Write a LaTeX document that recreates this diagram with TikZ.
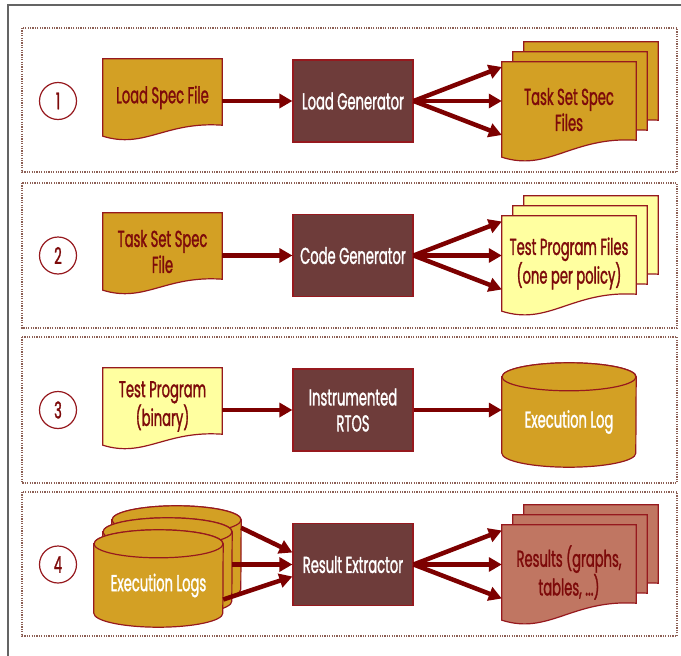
\documentclass[tikz,border=0pt]{standalone}
\usepackage{fontspec}
\setmainfont{Poppins}[FakeStretch=0.57, FakeBold=1.2]
\usetikzlibrary{arrows.meta,calc,backgrounds}

\definecolor{mustard}{RGB}{211,160,36}
\definecolor{edgered}{RGB}{150,25,30}
\definecolor{boxbrown}{RGB}{110,60,58}
\definecolor{paleyellow}{RGB}{255,255,160}
\definecolor{salmon}{RGB}{192,118,98}
\definecolor{arrowred}{RGB}{125,0,0}
\definecolor{textred}{RGB}{125,10,10}
\definecolor{panelline}{RGB}{140,95,85}
\definecolor{framegray}{RGB}{100,100,100}

% wavy-bottomed document outline around a (text-less) node
% #1 node, #2 rise of the right corner, #3/#4 control offsets, #5 dip, #6 style
\newcommand{\drawdoc}[6]{%
  \filldraw[#6] (#1.north west) -- (#1.north east) -- ($(#1.south east)+(0,-#2)$)
    .. controls ($(#1.south east)+(-#3,-#2-4)$) and ($(#1.south west)+(#4,#5)$) .. (#1.south west) -- cycle;}

% cylinder whose node spans from the centre line of the top ellipse to the bottom
% #1 node, #2 half width, #3 ellipse y radius, #4 style
\newcommand{\drawcyl}[4]{%
  \filldraw[#4] (#1.north west) -- ($(#1.south west)+(0,-#3)$)
    arc[start angle=180, end angle=0, x radius=#2, y radius=#3]
    -- (#1.north east)
    arc[start angle=0, end angle=-180, x radius=#2, y radius=#3] -- cycle;
  \filldraw[#4] (#1.north) ellipse[x radius=#2, y radius=#3];}

\begin{document}
\begin{tikzpicture}[x=1pt, y=-1pt,
  label font/.style={font=\fontsize{23}{26}\selectfont},
  docnode/.style={draw=none, inner sep=0pt, align=center, label font, text=textred},
  smalldoc/.style={docnode, minimum width=119pt, minimum height=77pt},
  bigdoc/.style={docnode, minimum width=134pt, minimum height=95pt},
  procbox/.style={draw=edgered, line width=1.2pt, fill=boxbrown, text=white,
    align=center, label font, minimum width=120pt, minimum height=82pt, inner sep=0pt},
  stepnum/.style={circle, draw=edgered, line width=1.2pt, minimum size=37pt,
    inner sep=0pt, text=textred, label font},
  cylnode/.style={draw=none, inner sep=0pt, align=center, label font, text=white},
  shapeline/.style={draw=edgered, line width=1.2pt},
  link/.style={draw=arrowred, line width=4.5pt, -{Triangle[length=13pt,width=14pt]}},
  panel/.style={draw=panelline, line width=1.5pt, dash pattern=on 1.2pt off 1.2pt},
]
\useasboundingbox (0,0) rectangle (681,656);

% outer frame
\draw[framegray, line width=1.5pt] (8,656) -- (8,5) -- (681,5);

% ---------- stage 1 ----------
\node[stepnum] (n1) at (58,101) {1};
\node[smalldoc] (spec1) at (162.5,97.5) {Load Spec File};
\node[procbox] (gen1) at (353,101) {Load Generator};
\node[bigdoc] (task1) at (569,109.5) {Task Set Spec\\Files};
\node[bigdoc] (task1b) at (580,99.5) {};
\node[bigdoc] (task1c) at (591,89.5) {};

% ---------- stage 2 ----------
\node[stepnum] (n2) at (58,255.5) {2};
\node[smalldoc] (spec2) at (162.5,251.5) {Task Set Spec\\File};
\node[procbox] (gen2) at (353,255.5) {Code Generator};
\node[bigdoc] (prog2) at (569,263.5) {Test Program Files\\(one per policy)};
\node[bigdoc] (prog2b) at (580,253.5) {};
\node[bigdoc] (prog2c) at (591,243.5) {};

% ---------- stage 3 ----------
\node[stepnum] (n3) at (58,410) {3};
\node[smalldoc] (bin3) at (162.5,406.5) {Test Program\\(binary)};
\node[procbox] (rtos3) at (353,410) {Instrumented\\RTOS};
\node[cylnode, minimum width=134pt, minimum height=90pt] (log3) at (569,422) {Execution Log};

% ---------- stage 4 ----------
\node[stepnum] (n4) at (58,564.5) {4};
\node[cylnode, minimum width=129pt, minimum height=83pt] (logs4a) at (158.5,585.5) {Execution Logs};
\node[cylnode, minimum width=129pt, minimum height=83pt] (logs4b) at (167.5,573.5) {};
\node[cylnode, minimum width=129pt, minimum height=83pt] (logs4c) at (176.5,561.5) {};
\node[procbox] (ext4) at (353,564.5) {Result Extractor};
\node[bigdoc] (res4) at (569,572.5) {Results (graphs,\\tables, ...)};
\node[bigdoc] (res4b) at (580,562.5) {};
\node[bigdoc] (res4c) at (591,552.5) {};

% ---------- shapes behind the labels ----------
\begin{pgfonlayer}{background}
  \draw[panel] (22,28) rectangle (677,172);
  \draw[panel] (22,183) rectangle (677,328);
  \draw[panel] (22,337) rectangle (677,483);
  \draw[panel] (22,492) rectangle (677,636);

  \drawdoc{spec1}{11}{57}{42}{13}{shapeline, fill=mustard}
  \drawdoc{task1c}{17}{64}{47}{15}{shapeline, fill=mustard}
  \drawdoc{task1b}{17}{64}{47}{15}{shapeline, fill=mustard}
  \drawdoc{task1}{17}{64}{47}{15}{shapeline, fill=mustard}

  \drawdoc{spec2}{11}{57}{42}{13}{shapeline, fill=mustard}
  \drawdoc{prog2c}{17}{64}{47}{15}{shapeline, fill=paleyellow}
  \drawdoc{prog2b}{17}{64}{47}{15}{shapeline, fill=paleyellow}
  \drawdoc{prog2}{17}{64}{47}{15}{shapeline, fill=paleyellow}

  \drawdoc{bin3}{11}{57}{42}{13}{shapeline, fill=paleyellow}
  \drawcyl{log3}{67}{14}{shapeline, fill=mustard}

  \drawcyl{logs4c}{64.5}{14}{shapeline, fill=mustard}
  \drawcyl{logs4b}{64.5}{14}{shapeline, fill=mustard}
  \drawcyl{logs4a}{64.5}{14}{shapeline, fill=mustard}
  \drawdoc{res4c}{17}{64}{47}{15}{shapeline, fill=salmon}
  \drawdoc{res4b}{17}{64}{47}{15}{shapeline, fill=salmon}
  \drawdoc{res4}{17}{64}{47}{15}{shapeline, fill=salmon}
\end{pgfonlayer}

% ---------- connectors ----------
\draw[link] (spec1.east |- gen1.west) -- (gen1.west);
\draw[link] (gen1.east) -- ($(task1.west |- gen1.east)+(0,-34)$);
\draw[link] (gen1.east) -- (task1.west |- gen1.east);
\draw[link] (gen1.east) -- ($(task1.west |- gen1.east)+(0,34)$);

\draw[link] (spec2.east |- gen2.west) -- (gen2.west);
\draw[link] (gen2.east) -- ($(prog2.west |- gen2.east)+(0,-34)$);
\draw[link] (gen2.east) -- (prog2.west |- gen2.east);
\draw[link] (gen2.east) -- ($(prog2.west |- gen2.east)+(0,34)$);

\draw[link] (bin3.east |- rtos3.west) -- (rtos3.west);
\draw[link] (rtos3.east) -- (rtos3.east -| log3.west);

\draw[link] ($(logs4c.north east)+(0,8)$) -- ($(ext4.west)+(0,-12)$);
\draw[link] (logs4b.east |- ext4.west) -- (ext4.west);
\draw[link] ($(logs4a.east)+(0,14)$) -- ($(ext4.west)+(0,12)$);
\draw[link] (ext4.east) -- ($(res4.west |- ext4.east)+(0,-34)$);
\draw[link] (ext4.east) -- (res4.west |- ext4.east);
\draw[link] (ext4.east) -- ($(res4.west |- ext4.east)+(0,34)$);
\end{tikzpicture}
\end{document}
